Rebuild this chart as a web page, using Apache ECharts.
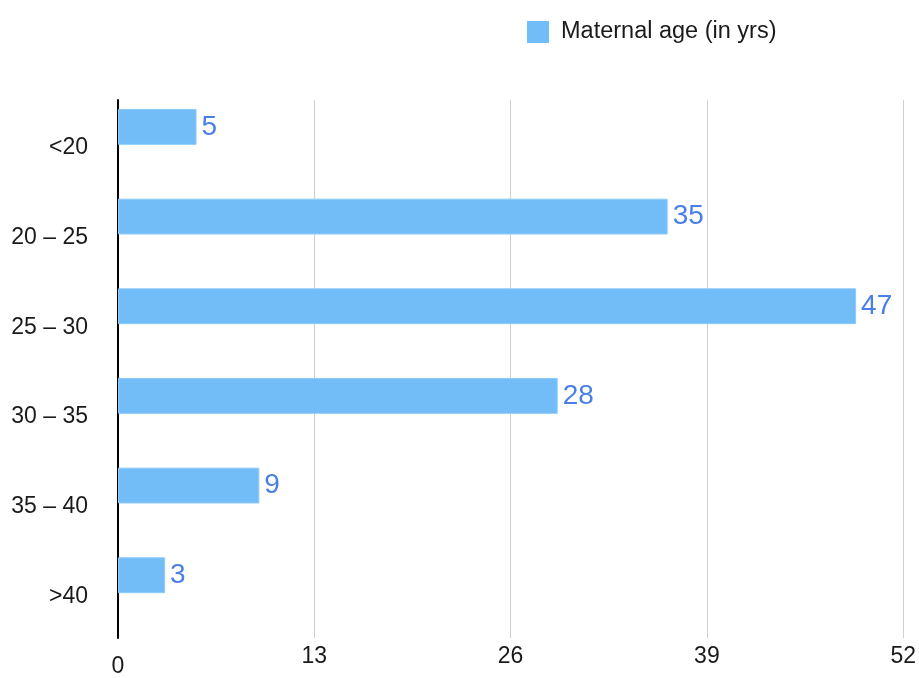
<!DOCTYPE html>
<html>
<head>
<meta charset="utf-8">
<script src="https://cdn.jsdelivr.net/npm/echarts@6/dist/echarts.min.js"></script>
<style>html,body{margin:0;padding:0;background:#fff}#c{width:919px;height:678px}</style>
</head>
<body>
<div id="c"></div>
<script>
const categories = ['<20', '20 – 25', '25 – 30', '30 – 35', '35 – 40', '>40'];
const values = [5, 35, 47, 28, 9, 3];
const seriesName = 'Maternal age (in yrs)';
const axisMax = 52;
const axisStep = 13;
const barScaleMax = 50;

const font = '"Liberation Sans", Arial, Helvetica, sans-serif';
const chart = echarts.init(document.getElementById('c'));
chart.setOption({
  animation: false,
  textStyle: { fontFamily: font },
  legend: {
    data: [seriesName],
    icon: 'rect',
    top: 15, left: 522,
    itemWidth: 22, itemHeight: 22, itemGap: 10,
    itemStyle: { borderWidth: 0 },
    textStyle: { fontSize: 23.5, color: '#1a1a1a', fontFamily: font, padding: [0, 0, 0, 7] }
  },
  grid: { left: 118, right: 11, top: 100, bottom: 35, containLabel: false },
  xAxis: [
    {
      type: 'value', min: 0, max: axisMax, interval: axisStep,
      axisLine: { show: false }, axisTick: { show: false },
      splitLine: { show: true, lineStyle: { color: '#cfcfcf', width: 1 } },
      axisLabel: {
        fontSize: 23, color: '#1a1a1a', margin: 7, fontFamily: font,
        showMinLabel: true, showMaxLabel: true,
        formatter: v => v === 0 ? '{z|0}' : String(v),
        rich: { z: { fontSize: 23, color: '#1a1a1a', fontFamily: font, padding: [10, 0, 0, 0] } }
      }
    },
    {
      type: 'value', min: 0, max: barScaleMax, show: false,
      splitLine: { show: false }
    }
  ],
  yAxis: {
    type: 'category', data: categories, inverse: true,
    axisLine: { show: true, lineStyle: { color: '#000', width: 2 } },
    axisTick: { show: false },
    splitLine: { show: false },
    axisLabel: {
      fontSize: 23, color: '#1a1a1a', margin: 30, fontFamily: font,
      formatter: v => '{c|' + v + '}',
      rich: { c: { fontSize: 23, color: '#1a1a1a', fontFamily: font, padding: [6, 0, 0, 0] } }
    }
  },
  series: [
    {
      name: seriesName, type: 'bar', xAxisIndex: 1, data: values,
      barGap: '0%', barCategoryGap: '20%',
      itemStyle: { color: '#72bcf8', borderColor: '#8fcbfa', borderWidth: 1 },
      label: { show: true, position: 'right', distance: 5, fontSize: 28, color: '#4a80e6', fontFamily: font }
    },
    {
      name: 'spacer', type: 'bar', xAxisIndex: 1, data: values.map(() => null),
      barGap: '0%', barCategoryGap: '20%', silent: true
    }
  ]
});
</script>
</body>
</html>
